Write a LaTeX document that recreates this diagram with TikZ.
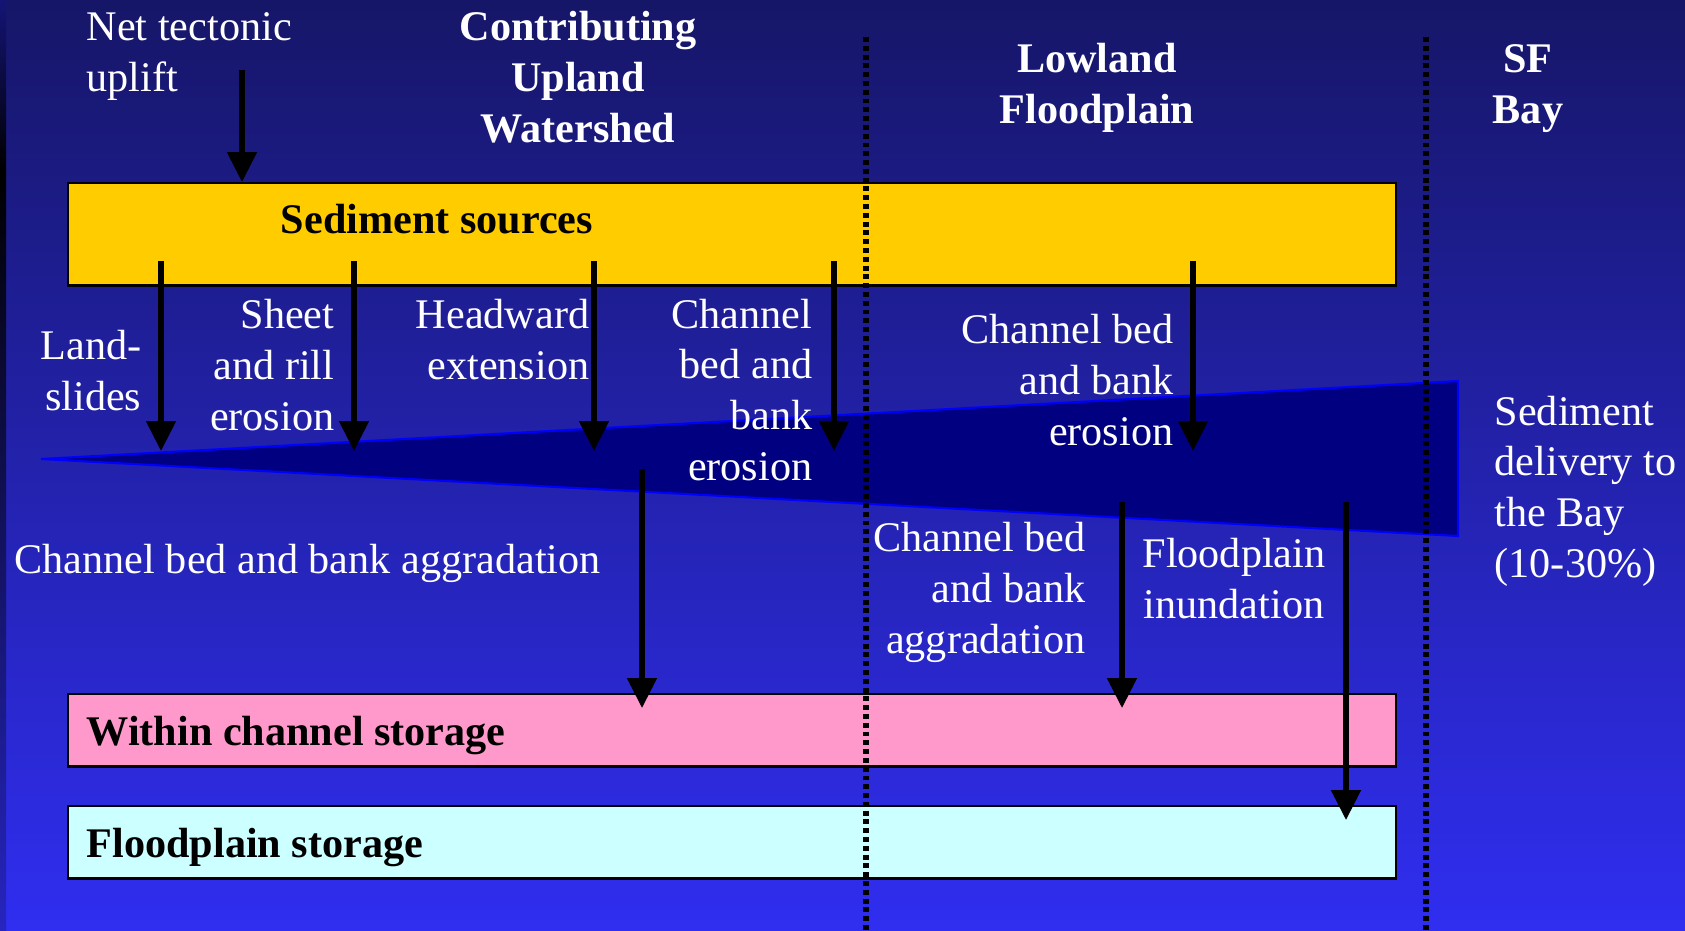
\documentclass[tikz,border=0pt]{standalone}
\usepackage{fontspec}
\setmainfont{Liberation Serif}
\usepackage{tikz}
\usetikzlibrary{arrows.meta,positioning}
\definecolor{bgtop}{RGB}{22,22,104}
\definecolor{bgbottom}{RGB}{48,46,240}
\definecolor{srcyellow}{RGB}{255,204,0}
\definecolor{chanpink}{RGB}{255,153,204}
\definecolor{fpcyan}{RGB}{204,255,255}
\definecolor{wedgenavy}{RGB}{0,0,128}
\tikzset{
  sdbox/.style={
    rectangle, draw=black, line width=0.7pt, anchor=north west,
    minimum width=13.27cm, inner sep=0pt
  },
  sdtext/.style={text=white, font=\fontsize{12}{14.4}\selectfont, inner sep=0pt},
  sdhead/.style={sdtext, font=\fontsize{12}{14.4}\selectfont\bfseries, align=center, anchor=base},
  sdboxlabel/.style={inner sep=0pt, font=\fontsize{12}{14.4}\selectfont\bfseries, anchor=base west},
  sdarrow/.style={-{Triangle[length=8.5pt,width=8.2pt]}, line width=1.5pt, draw=black},
  sddivider/.style={draw=black, line width=1.6pt, dash pattern=on 1.4pt off 1.1pt},
}

\begin{document}
\begin{tikzpicture}[x=0.01cm, y=-0.01cm]
  \useasboundingbox (0,0) rectangle (1685,930);
  % background
  \shade[top color=bgtop, bottom color=bgbottom] (0,0) rectangle (1685,930);
  \shade[top color=bgtop!90!blue, bottom color=black] (0,0) rectangle (6,170);
  \shade[top color=black, bottom color=bgbottom!80!black] (0,170) rectangle (6,930);

  % transport wedge
  \filldraw[fill=wedgenavy, draw=blue, line width=0.6pt]
    (41,459) -- (1458,381) -- (1458,536) -- cycle;

  % storage and source boxes
  \node (sources) [sdbox, fill=srcyellow, minimum height=1.02cm] at (67,182) {};
  \node (within)  [sdbox, fill=chanpink, minimum height=0.72cm] at (67,693) {};
  \node (fpstore) [sdbox, fill=fpcyan, minimum height=0.72cm] at (67,805) {};
  \node (sourcestext) [sdboxlabel, anchor=base] at (437,233) {Sediment sources};
  \node (withintext)  [sdboxlabel] at (86,745) {Within channel storage};
  \node (fpstoretext) [sdboxlabel] at (86,857) {Floodplain storage};

  % column dividers
  \draw[sddivider] (866,37) -- (866,930);
  \draw[sddivider] (1426,37) -- (1426,930);

  % headings (anchored on the last line)
  \node (upland)   [sdhead] at (578,142) {Contributing\\Upland\\Watershed};
  \node (lowland)  [sdhead] at (1097,123) {Lowland\\Floodplain};
  \node (bay)      [sdhead] at (1528,123) {SF\\Bay};

  % process labels
  \node (uplift)   [sdtext, align=left, anchor=base west] at (86,91) {Net tectonic\\uplift};
  \node (slides)   [sdtext, align=right, anchor=base east] at (142,410) {Land-\\slides};
  \node (sheet)    [sdtext, align=right, anchor=base east] at (335,430) {Sheet\\and rill\\erosion};
  \node (headward) [sdtext, align=right, anchor=base east] at (590,379) {Headward\\extension};
  \node (upbank)   [sdtext, align=right, anchor=base east] at (813,480) {Channel\\bed and\\bank\\erosion};
  \node (upaggr)   [sdtext, anchor=base west] at (14,573) {Channel bed and bank aggradation};
  \node (lowbank)  [sdtext, align=right, anchor=base east] at (1174,445) {Channel bed\\and bank\\erosion};
  \node (lowaggr)  [sdtext, align=right, anchor=base east] at (1086,653) {Channel bed\\and bank\\aggradation};
  \node (inund)    [sdtext, align=center, anchor=base] at (1234,618) {Floodplain\\inundation};
  \node (delivery) [sdtext, align=left, anchor=base west] at (1494,577) {Sediment\\delivery to\\the Bay\\(10-30\%)};

  % flows
  \coordinate (upliftstart) at (242,70);
  \draw[sdarrow] (upliftstart) -- (upliftstart |- sources.north);
  \foreach \x [count=\i] in {161,354,594,834,1193}{
    \coordinate (src\i) at (\x,261);
    \coordinate (erode\i) at (\x,451);
    \draw[sdarrow] (src\i) -- (erode\i);
  }
  \coordinate (dep1) at (642,469);
  \coordinate (dep2) at (1122,502);
  \coordinate (dep3) at (1346,502);
  \draw[sdarrow] (dep1) -- ([yshift=-0.15cm]dep1 |- within.north);
  \draw[sdarrow] (dep2) -- ([yshift=-0.15cm]dep2 |- within.north);
  \draw[sdarrow] (dep3) -- ([yshift=-0.15cm]dep3 |- fpstore.north);
\end{tikzpicture}
\end{document}
